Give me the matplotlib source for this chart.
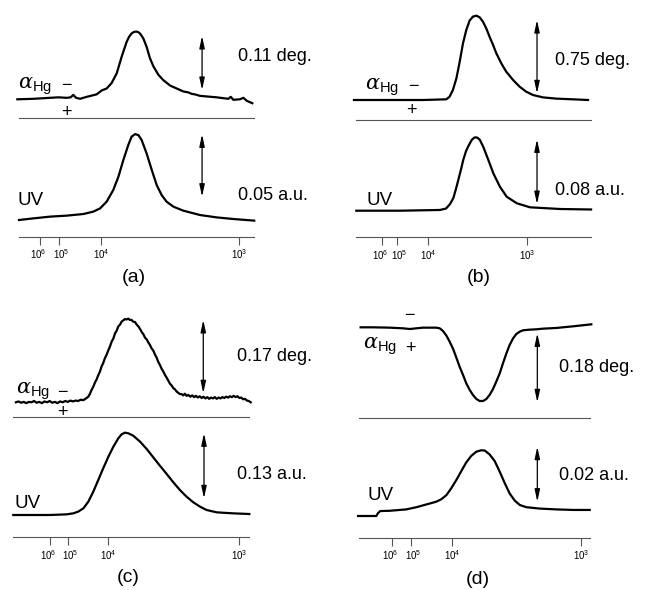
import numpy as np
import matplotlib as mpl
mpl.use("Agg")
from matplotlib import pyplot as plt
from matplotlib.transforms import ScaledTranslation

mpl.rcParams['font.family'] = ['Liberation Sans', 'DejaVu Sans']
mpl.rcParams['mathtext.fontset'] = 'custom'
mpl.rcParams['mathtext.rm'] = 'Liberation Sans'
mpl.rcParams['mathtext.it'] = 'DejaVu Serif:italic'

# ---- data (x = elution position, 0..100 along the MW axis) ----
# optical rotation traces, deg (minus plotted upward)
x_rot_a = [-0.7, 6.1, 13.2, 16.7, 20.3, 22.0, 23.1, 24.3, 26.0, 28.8, 33.0, 35.2, 37.3, 39.4, 41.6, 43.7,
           45.8, 46.8, 47.9, 48.8, 49.8, 50.7, 51.5, 52.9, 54.3, 55.7, 57.2, 59.3, 61.4, 64.3, 67.1, 69.9,
           72.1, 73.5, 74.9, 77.0, 84.1, 89.1, 90.1, 91.2, 94.0, 95.5, 96.9, 99.3]
rot_a = [0.000, 0.001, 0.003, 0.004, 0.003, 0.004, 0.009, 0.003, 0.001, 0.005, 0.010, 0.018, 0.022, 0.033,
         0.053, 0.087, 0.117, 0.127, 0.134, 0.137, 0.138, 0.137, 0.134, 0.124, 0.107, 0.084, 0.067, 0.050,
         0.039, 0.028, 0.022, 0.016, 0.014, 0.011, 0.010, 0.007, 0.004, 0.001, 0.005, -0.001, 0.000, 0.003,
         -0.003, -0.008]

x_rot_b = [-1.0, 14.2, 28.4, 38.3, 39.7, 41.1, 42.6, 44.0, 45.4, 46.8, 48.2, 49.6, 51.1, 52.5, 53.9, 55.3,
           56.7, 58.2, 59.6, 61.7, 63.8, 66.7, 69.5, 72.3, 75.2, 79.4, 85.1, 92.2, 98.6]
rot_b = [0.0, 0.0, 0.0, 0.007, 0.034, 0.102, 0.222, 0.392, 0.580, 0.716, 0.812, 0.853, 0.863, 0.846, 0.801,
         0.733, 0.648, 0.563, 0.477, 0.375, 0.290, 0.205, 0.136, 0.085, 0.051, 0.027, 0.014, 0.007, 0.0]

x_rot_c = [1.1, 2.2, 3.3, 4.4, 5.5, 6.6, 7.7, 8.8, 9.9, 11.0, 12.1, 13.2, 14.3, 15.4, 16.5, 17.6, 18.7,
           19.8, 20.9, 22.0, 23.1, 24.2, 25.3, 26.4, 27.5, 28.6, 29.7, 30.8, 31.8, 32.5, 33.2, 33.9, 34.6,
           35.3, 36.0, 36.7, 37.4, 38.1, 38.8, 39.5, 40.3, 41.0, 41.7, 42.4, 43.1, 43.8, 44.5, 45.2, 45.9,
           46.6, 47.3, 48.0, 48.7, 49.4, 50.1, 50.8, 51.6, 52.3, 53.0, 53.7, 54.4, 55.1, 55.8, 56.5, 57.2,
           57.9, 58.6, 59.3, 60.0, 60.7, 61.4, 62.1, 62.9, 63.6, 64.3, 65.0, 65.7, 66.4, 67.1, 67.8, 68.5,
           69.2, 69.9, 70.6, 71.3, 72.0, 72.7, 73.4, 74.2, 75.0, 75.8, 76.6, 77.4, 78.2, 79.0, 79.8, 80.6,
           81.4, 82.2, 83.0, 83.8, 84.6, 85.4, 86.2, 87.0, 87.8, 88.6, 89.4, 90.2, 91.0, 91.8, 92.6, 93.4,
           94.2, 95.0, 95.8, 96.6, 97.4, 98.2, 99.0, 99.8, 100.6]
rot_c = [0.000, 0.002, -0.001, 0.001, -0.002, 0.001, 0.000, 0.003, -0.001, 0.001, -0.002, 0.002, 0.000,
         0.003, -0.001, 0.001, -0.002, 0.002, 0.000, 0.003, 0.001, 0.004, 0.002, 0.004, 0.003, 0.006, 0.005,
         0.009, 0.013, 0.020, 0.029, 0.036, 0.046, 0.053, 0.063, 0.071, 0.083, 0.091, 0.102, 0.110, 0.121,
         0.130, 0.141, 0.148, 0.160, 0.166, 0.176, 0.180, 0.187, 0.190, 0.193, 0.192, 0.194, 0.191, 0.191,
         0.187, 0.186, 0.180, 0.176, 0.170, 0.163, 0.158, 0.150, 0.146, 0.139, 0.133, 0.125, 0.120, 0.111,
         0.104, 0.094, 0.087, 0.077, 0.071, 0.063, 0.057, 0.050, 0.043, 0.039, 0.033, 0.030, 0.025, 0.022,
         0.019, 0.019, 0.016, 0.020, 0.015, 0.017, 0.013, 0.016, 0.012, 0.015, 0.011, 0.014, 0.010, 0.013,
         0.009, 0.012, 0.008, 0.011, 0.009, 0.012, 0.008, 0.011, 0.009, 0.012, 0.010, 0.013, 0.011, 0.014,
         0.012, 0.015, 0.012, 0.014, 0.010, 0.011, 0.007, 0.008, 0.004, 0.003, 0.000]

x_rot_d = [0.7, 6.1, 13.3, 19.1, 22.0, 24.9, 27.7, 33.5, 35.0, 36.4, 37.9, 39.3, 40.8, 42.2, 43.6, 45.1,
           46.5, 48.0, 49.4, 50.9, 52.3, 53.8, 55.2, 56.6, 58.1, 59.5, 61.0, 62.4, 63.9, 65.3, 66.8, 68.2,
           69.7, 71.1, 74.0, 76.9, 79.8, 85.5, 92.8, 100.7]
rot_d = [0.0, 0.0, -0.0009, -0.0026, -0.0044, -0.0026, -0.0009, -0.0009, -0.0026, -0.0096, -0.0218,
         -0.0374, -0.0566, -0.0792, -0.1027, -0.1244, -0.1462, -0.1636, -0.1766, -0.1871, -0.1923, -0.1923,
         -0.1871, -0.1766, -0.1610, -0.1418, -0.1201, -0.0940, -0.0679, -0.0461, -0.0287, -0.0174, -0.0113,
         -0.0078, -0.0061, -0.0052, -0.0035, -0.0017, 0.0026, 0.0078]

# UV traces, a.u.
x_uv_a = [0.0, 6.1, 13.2, 20.3, 27.4, 31.6, 34.5, 37.3, 40.1, 42.3, 44.4, 46.5, 47.9, 49.4, 50.8, 52.2,
          54.3, 56.5, 58.6, 60.7, 62.8, 65.7, 69.9, 77.0, 84.1, 91.2, 100.1]
uv_a = [0.0, 0.0013, 0.0027, 0.0035, 0.0048, 0.0067, 0.0093, 0.0147, 0.0240, 0.0347, 0.0481, 0.0601,
        0.0668, 0.0689, 0.0681, 0.0641, 0.0534, 0.0401, 0.0280, 0.0200, 0.0147, 0.0107, 0.0075, 0.0040,
        0.0021, 0.0008, -0.0005]

x_uv_b = [0.0, 18.6, 35.6, 38.2, 39.9, 41.3, 42.4, 43.4, 44.6, 45.5, 46.7, 47.7, 49.1, 50.1, 50.8, 51.6,
          52.6, 54.0, 56.2, 58.3, 61.1, 64.0, 68.3, 73.9, 86.7, 99.9]
uv_b = [0.0, 0.0, 0.0009, 0.0027, 0.0083, 0.0157, 0.0268, 0.0380, 0.0516, 0.0627, 0.0738, 0.0800, 0.0875,
        0.0902, 0.0908, 0.0902, 0.0875, 0.0792, 0.0627, 0.0463, 0.0297, 0.0173, 0.0092, 0.0042, 0.0021,
        0.0015]

x_uv_c = [0.0, 8.5, 15.5, 22.6, 25.4, 27.5, 29.7, 31.8, 33.9, 36.0, 38.1, 40.3, 42.4, 44.5, 45.9, 47.3,
          48.7, 50.8, 53.7, 56.5, 59.3, 62.1, 65.0, 67.8, 70.6, 73.4, 76.3, 79.1, 81.9, 86.2, 93.2, 100.0]
uv_c = [0.0, 0.0, 0.0, 0.0013, 0.0033, 0.0067, 0.0133, 0.0267, 0.0467, 0.0700, 0.0934, 0.1167, 0.1367,
        0.1534, 0.1614, 0.1647, 0.1634, 0.1587, 0.1467, 0.1321, 0.1154, 0.0987, 0.0820, 0.0654, 0.0500,
        0.0367, 0.0253, 0.0167, 0.0100, 0.0053, 0.0033, 0.0020]

x_uv_d = [-0.4, 7.5, 8.2, 9.2, 13.3, 20.5, 24.9, 29.2, 33.5, 35.7, 37.9, 40.0, 42.2, 44.4, 46.5, 48.7,
          50.9, 53.0, 54.5, 56.6, 58.8, 61.0, 63.2, 65.3, 67.5, 69.7, 72.5, 78.3, 85.5, 92.8, 100.0]
uv_d = [0.0, 0.0, 0.0010, 0.0018, 0.0019, 0.0024, 0.0032, 0.0042, 0.0052, 0.0061, 0.0076, 0.0101, 0.0131,
        0.0164, 0.0195, 0.0219, 0.0234, 0.0239, 0.0238, 0.0224, 0.0200, 0.0161, 0.0119, 0.0082, 0.0056,
        0.0040, 0.0032, 0.0027, 0.0024, 0.0022, 0.0022]

# molecular weight calibration ticks
mw_labels = ['$10^6$', '$10^5$', '$10^4$', '$10^3$']
mw_pos_a = [8.9, 17.2, 35.0, 93.5]
mw_pos_b = [11.1, 17.3, 30.5, 72.8]
mw_pos_c = [15.5, 23.3, 40.3, 95.8]
mw_pos_d = [14.3, 22.7, 40.3, 96.4]

# scale bars
rot_scale = [0.11, 0.75, 0.17, 0.18]
uv_scale = [0.05, 0.08, 0.13, 0.02]
panel_names = ['(a)', '(b)', '(c)', '(d)']

# ---- layout (figure pixels) ----
W, H = 647, 590
# left, right, top of alpha box, separator, MW axis line
boxes = [(19, 254, 10, 118, 237), (356.3, 591.3, 5, 120, 237.3),
         (13.3, 249.3, 300, 416.7, 537.3), (359, 589.7, 300, 417.7, 537.7)]
rot_lims = [(-0.0381, 0.1819), (-0.2046, 0.972), (-0.0334, 0.2372), (-0.2359, 0.0713)]
uv_lims = [(-0.01363, 0.0818), (-0.0329, 0.1122), (-0.0446, 0.1966), (-0.00789, 0.03574)]
rot_arrow = [(77.9, 0.019), (76.9, 0.068), (80.5, 0.0209), (77.3, -0.1958)]
uv_arrow = [(77.9, 0.0187), (76.9, 0.0082), (80.8, 0.0334), (77.3, 0.0052)]
rot_txt = [(93.3, 0.087), (84.7, 0.409), (94.9, 0.106), (86.7, -0.105)]
uv_txt = [(93.3, 0.020), (84.7, 0.0255), (94.9, 0.080), (86.7, 0.0149)]
alpha_lbl = [(-0.5, 0.027), (3.6, 0.130), (1.1, 0.0246), (1.7, -0.0506)]
minus_lbl = [(20.3, 0.029), (24.4, 0.143), (20.8, 0.0232), (21.7, 0.0321)]
plus_lbl = [(20.3, -0.0273), (23.4, -0.1125), (20.8, -0.0232), (22.2, -0.0548)]
uv_lbl = [(-0.7, 0.016), (4.3, 0.0132), (0.3, 0.0234), (3.9, 0.0076)]
name_pos = [(134, 278), (479, 278), (128, 578), (478, 580)]
label_nudge = [-2, 2, 0, 0]   # px, keeps the crowded 10^6 / 10^5 labels apart

rot_x = [x_rot_a, x_rot_b, x_rot_c, x_rot_d]
rot_y = [rot_a, rot_b, rot_c, rot_d]
uv_x = [x_uv_a, x_uv_b, x_uv_c, x_uv_d]
uv_y = [uv_a, uv_b, uv_c, uv_d]
mw_pos = [mw_pos_a, mw_pos_b, mw_pos_c, mw_pos_d]

fig = plt.figure(figsize=(W / 100, H / 100), dpi=100)

def box(l, r, t, b):
  return [l / W, 1 - b / H, (r - l) / W, (b - t) / H]

arrow_style = dict(arrowstyle='<|-|>,head_length=0.6,head_width=0.13', lw=0.9, color='black',
                   shrinkA=0, shrinkB=0, mutation_scale=12)

for i in range(4):
  l, r, t, sep, bot = boxes[i]
  ax1 = fig.add_axes(box(l, r, t, sep))
  ax2 = fig.add_axes(box(l, r, sep, bot))
  for ax in (ax1, ax2):
    ax.set_xlim(0, 100)
    ax.patch.set_visible(False)
    for s in ['top', 'left', 'right']:
      ax.spines[s].set_visible(False)
    ax.spines['bottom'].set_linewidth(0.8)
    ax.spines['bottom'].set_color('#555555')
    ax.set_yticks([])
  ax1.set_xticks([])
  ax1.set_ylim(*rot_lims[i])
  ax2.set_ylim(*uv_lims[i])

  ax1.plot(rot_x[i], rot_y[i], color='black', lw=1.6, clip_on=False, solid_joinstyle='round')
  ax2.plot(uv_x[i], uv_y[i], color='black', lw=1.6, clip_on=False, solid_joinstyle='round')

  ax2.set_xticks(mw_pos[i])
  ax2.set_xticklabels(mw_labels, fontsize=7)
  ax2.tick_params(axis='x', direction='out', length=5.5, width=0.8, color='#555555', pad=2.5)
  for lab, dx in zip(ax2.get_xticklabels(), label_nudge):
    lab.set_transform(lab.get_transform() + ScaledTranslation(dx / 100, 0, fig.dpi_scale_trans))

  xa, ya = rot_arrow[i]
  ax1.annotate('', xy=(xa, ya + rot_scale[i]), xytext=(xa, ya), arrowprops=arrow_style, annotation_clip=False)
  xa, ya = uv_arrow[i]
  ax2.annotate('', xy=(xa, ya + uv_scale[i]), xytext=(xa, ya), arrowprops=arrow_style, annotation_clip=False)

  ax1.text(*rot_txt[i], f'{rot_scale[i]:.2f} deg.', fontsize=13, ha='left', va='center', clip_on=False)
  ax2.text(*uv_txt[i], f'{uv_scale[i]:.2f} a.u.', fontsize=13, ha='left', va='center', clip_on=False)
  ax1.text(*alpha_lbl[i], r'$\alpha_{\mathrm{Hg}}$', fontsize=15, ha='left', va='center')
  ax1.text(*minus_lbl[i], '\u2212', fontsize=13, ha='center', va='center')
  ax1.text(*plus_lbl[i], '+', fontsize=13, ha='center', va='center')
  ax2.text(*uv_lbl[i], 'UV', fontsize=13.5, ha='left', va='center')

  fig.text(name_pos[i][0] / W, 1 - name_pos[i][1] / H, panel_names[i], fontsize=14, ha='center', va='center')

plt.savefig('out.png', dpi=100)
